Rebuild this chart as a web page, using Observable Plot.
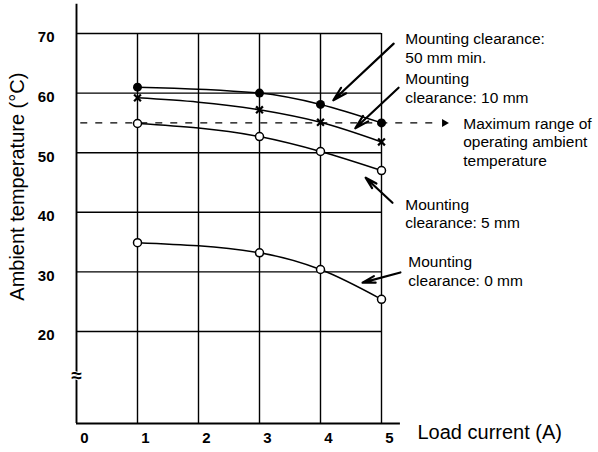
<!DOCTYPE html>
<html>
<head>
<meta charset="utf-8">
<script src="https://cdn.jsdelivr.net/npm/d3@7"></script>
<script src="https://cdn.jsdelivr.net/npm/@observablehq/plot@0.6"></script>
<style>
  html, body { margin: 0; padding: 0; background: #fff; }
  #chart svg { display: block; }
</style>
</head>
<body>
<div id="chart"></div>
<script>
// ---- data ----
const xTicks = [0, 1, 2, 3, 4, 5];
const yTicks = [20, 30, 40, 50, 60, 70];
const loadCurrent = [1, 3, 4, 5];
const clearance50 = [61.0, 60.0, 58.1, 55.0];
const clearance10 = [59.2, 57.2, 55.1, 51.8];
const clearance5 = [54.9, 52.7, 50.2, 47.0];
const clearance0 = [34.9, 33.2, 30.4, 25.4];
const maxAmbient = 55;

const seriesNames = ["50", "10", "5", "0"];
const seriesValues = [clearance50, clearance10, clearance5, clearance0];
const seriesSymbol = ["filled", "cross", "open", "open"];

const annoText = [
  "Mounting clearance:\n50 mm min.",
  "Mounting\nclearance: 10 mm",
  "Maximum range of\noperating ambient\ntemperature",
  "Mounting\nclearance: 5 mm",
  "Mounting\nclearance: 0 mm"
];
const annoX = [5.39, 5.39, 6.34, 5.39, 5.44];
const annoY = [67.6, 60.9, 51.9, 39.9, 30.2];

const arrowX1 = [5.20, 5.28, 5.18, 5.31];
const arrowY1 = [68.3, 60.9, 41.6, 29.9];
const arrowX2 = [4.21, 4.57, 4.74, 4.69];
const arrowY2 = [58.8, 54.1, 45.8, 28.2];

// axis extents (the y axis is broken below 20)
const yFloor = 4.56, yCeil = 74.9, xEnd = 5.31;

// ---- tables ----
const rows = [];
seriesNames.forEach((s, i) => loadCurrent.forEach((x, j) =>
  rows.push({series: s, kind: seriesSymbol[i], x, y: seriesValues[i][j]})));
const annos = annoText.map((t, i) => ({text: t, x: annoX[i], y: annoY[i]}));
const arrows = arrowX1.map((_, i) => ({x1: arrowX1[i], y1: arrowY1[i], x2: arrowX2[i], y2: arrowY2[i]}));

const font = "'Liberation Sans', Arial, Helvetica, sans-serif";

const chart = Plot.plot({
  width: 598,
  height: 452,
  x: {domain: [0, 5], range: [76, 381], axis: null},
  y: {domain: [20, 70], range: [331, 33], axis: null},
  style: {fontFamily: font, background: "#fff", color: "#000"},
  marks: [
    // grid
    Plot.ruleY(yTicks, {x1: 0, x2: 5, stroke: "#000", strokeWidth: 1.4}),
    Plot.ruleX(xTicks.slice(1), {y1: yFloor, y2: 70, stroke: "#000", strokeWidth: 1.4}),
    // axes
    Plot.ruleX([0], {y1: yFloor, y2: yCeil, stroke: "#000", strokeWidth: 1.9}),
    Plot.ruleY([yFloor], {x1: 0, x2: xEnd, stroke: "#000", strokeWidth: 1.9}),
    // break mark
    Plot.text(["≈"], {x: 0, y: 12.6, text: d => d, fontSize: 19, fontWeight: "bold", fill: "#000", stroke: "#fff", strokeWidth: 2}),
    // max ambient dashed line
    Plot.ruleY([maxAmbient], {x1: 0.07, x2: 5.96, stroke: "#000", strokeWidth: 1.4, strokeDasharray: "7,8"}),
    Plot.dot([maxAmbient], {x: 6.03, y: d => d, symbol: "triangle2", rotate: 90, r: 3.8, fill: "#000"}),
    // series lines
    Plot.line(rows, {x: "x", y: "y", z: "series", curve: "monotone-x", stroke: "#000", strokeWidth: 1.5}),
    // markers
    Plot.dot(rows.filter(d => d.kind === "filled"), {x: "x", y: "y", r: 4.5, fill: "#000"}),
    Plot.dot(rows.filter(d => d.kind === "open"), {x: "x", y: "y", r: 4, fill: "#fff", stroke: "#000", strokeWidth: 1.5}),
    Plot.dot(rows.filter(d => d.kind === "cross"), {x: "x", y: "y", symbol: "times", r: 3.2, stroke: "#000", strokeWidth: 2.2}),
    // annotation arrows
    Plot.arrow(arrows, {x1: "x1", y1: "y1", x2: "x2", y2: "y2", stroke: "#000", strokeWidth: 2.2, headLength: 10, headAngle: 30}),
    Plot.text(annos, {x: "x", y: "y", text: "text", textAnchor: "start", lineAnchor: "middle", lineHeight: 1.2, fontSize: 15.5, fill: "#000"}),
    // tick labels
    Plot.text(yTicks, {x: -0.36, y: d => d, text: d => String(d), textAnchor: "end", dy: 4, fontSize: 15, fontWeight: "bold", fill: "#000"}),
    Plot.text(xTicks, {x: d => d, y: 2.1, text: d => String(d), dx: 8, fontSize: 15, fontWeight: "bold", fill: "#000"}),
    // axis titles
    Plot.text(["Ambient temperature (°C)"], {x: -0.97, y: 44.3, text: d => d, rotate: -90, fontSize: 20, fill: "#000"}),
    Plot.text(["Load current (A)"], {x: 5.59, y: 3.1, text: d => d, textAnchor: "start", fontSize: 20, fill: "#000"})
  ]
});
document.getElementById("chart").appendChild(chart);
</script>
</body>
</html>
